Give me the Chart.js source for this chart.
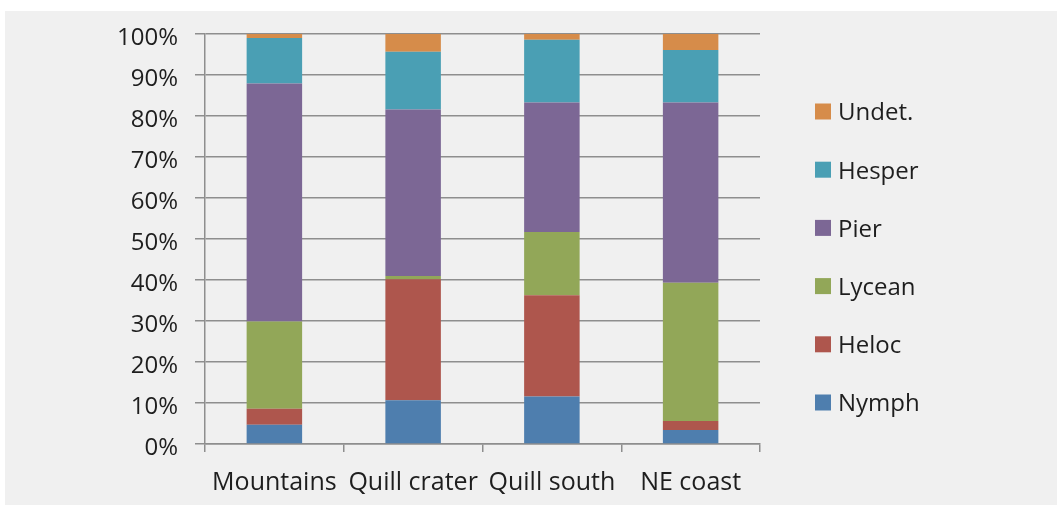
<!DOCTYPE html>
<html>
<head>
<meta charset="utf-8">
<script src="https://cdn.jsdelivr.net/npm/chart.js@4/dist/chart.umd.min.js"></script>
<style>
  html, body { margin: 0; padding: 0; background: #ffffff; }
  #wrap { position: relative; width: 1057px; height: 506px; }
  canvas { display: block; }
</style>
</head>
<body>
<div id="wrap"><canvas id="c" width="1057" height="506"></canvas></div>
<script>
// Share of each unit type by region (percent of total)
const categories = ['Mountains', 'Quill crater', 'Quill south', 'NE coast'];
const nymph  = [4.7, 10.7, 11.6, 3.4];
const heloc  = [3.9, 29.5, 24.7, 2.2];
const lycean = [21.3, 0.8, 15.4, 33.7];
const pier   = [58.0, 40.6, 31.6, 44.0];
const hesper = [11.1, 14.1, 15.3, 12.8];
const undet  = [1.0, 4.3, 1.4, 3.9];
const yTicks = [0, 10, 20, 30, 40, 50, 60, 70, 80, 90, 100];

const FONT = "'Open Sans', 'DejaVu Sans', sans-serif";
const TEXT = '#1e1e1e';
const GRID = '#8e8e8e';

// Light panel behind the whole chart
const panel = {
  id: 'panel',
  beforeDraw(chart) {
    const ctx = chart.ctx;
    ctx.save();
    ctx.fillStyle = '#ffffff';
    ctx.fillRect(0, 0, chart.width, chart.height);
    ctx.fillStyle = '#f0f0f0';
    ctx.fillRect(5, 11, chart.width - 5, chart.height - 12);
    ctx.restore();
  }
};

// Legend column on the right, top entry is the last series
const sideLegend = {
  id: 'sideLegend',
  afterDraw(chart) {
    const ctx = chart.ctx;
    const sets = chart.data.datasets.slice().reverse();
    ctx.save();
    ctx.font = '24px ' + FONT;
    ctx.textBaseline = 'middle';
    ctx.textAlign = 'left';
    sets.forEach((ds, i) => {
      const cy = 111.5 + i * 58.2;
      ctx.fillStyle = ds.backgroundColor;
      ctx.fillRect(815, cy - 8, 16, 16);
      ctx.fillStyle = TEXT;
      ctx.fillText(ds.label, 838, cy + 2);
    });
    ctx.restore();
  }
};

const series = [
  ['Nymph', nymph, '#4e7eae'],
  ['Heloc', heloc, '#ae564d'],
  ['Lycean', lycean, '#92a758'],
  ['Pier', pier, '#7c6795'],
  ['Hesper', hesper, '#4a9fb4'],
  ['Undet.', undet, '#d68c4a']
];

new Chart(document.getElementById('c'), {
  type: 'bar',
  data: {
    labels: categories,
    datasets: series.map(([label, data, color]) => ({
      label, data,
      backgroundColor: color,
      borderWidth: 0,
      categoryPercentage: 1.0,
      barPercentage: 0.4
    }))
  },
  options: {
    responsive: false,
    animation: false,
    devicePixelRatio: 1,
    layout: { padding: { left: 0, right: 297, top: 34, bottom: 0 } },
    plugins: {
      legend: { display: false },
      tooltip: { enabled: false }
    },
    scales: {
      x: {
        stacked: true,
        afterFit(s) { s.height = 62; },
        grid: {
          offset: true,
          drawOnChartArea: false,
          drawTicks: true,
          tickLength: 8,
          color: GRID,
          lineWidth: 1.5
        },
        border: { display: true, color: GRID, width: 1.5 },
        ticks: {
          color: TEXT,
          font: { family: FONT, size: 25 },
          padding: 16,
          maxRotation: 0,
          autoSkip: false
        }
      },
      y: {
        stacked: true,
        min: 0,
        max: 100,
        afterFit(s) { s.width = 205; },
        afterBuildTicks(s) { s.ticks = yTicks.map(v => ({ value: v })); },
        grid: {
          color: GRID,
          lineWidth: 1.5,
          tickLength: 10,
          drawTicks: true
        },
        border: { display: true, color: GRID, width: 1.5 },
        ticks: {
          color: TEXT,
          font: { family: FONT, size: 24 },
          padding: 17,
          labelOffset: 4,
          callback: v => v + '%'
        }
      }
    }
  },
  plugins: [panel, sideLegend]
});
</script>
</body>
</html>
